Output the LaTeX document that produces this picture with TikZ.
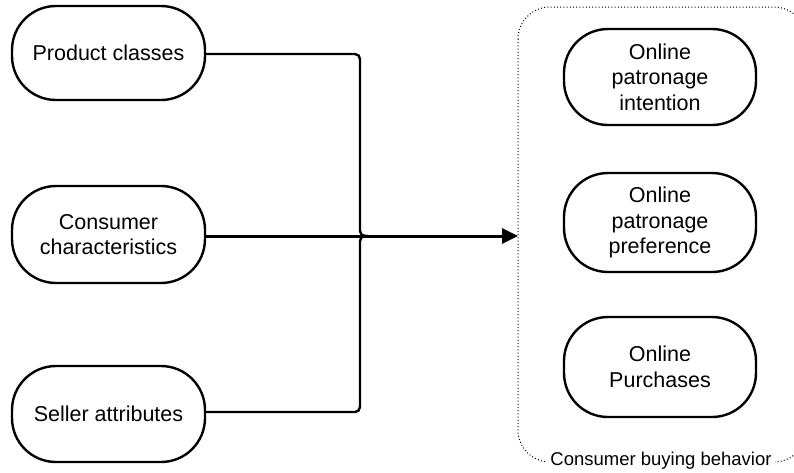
\documentclass[tikz,border=0pt]{standalone}
\usepackage{fontspec}
\setmainfont{Liberation Sans}
\usetikzlibrary{arrows.meta}
\begin{document}
\begin{tikzpicture}[x=1pt,y=-1pt,
  pill/.style={draw, line width=2.4pt, rounded corners=44pt, align=center,
    minimum width=193pt, inner sep=0pt, font=\fontsize{21.5}{25.5}\selectfont},
  link/.style={line width=2.4pt, rounded corners=5pt},
  group/.style={draw, line width=1pt, dash pattern=on 1pt off 2.2pt, rounded corners=32pt}]
  \useasboundingbox (0,0) rectangle (794,472);
  % input factors
  \node[pill, minimum height=94pt] (pc) at (108.5,53) {Product classes};
  \node[pill, minimum height=97pt] (cc) at (108.5,234.5) {Consumer\\characteristics};
  \node[pill, minimum height=96pt] (sa) at (108.5,414) {Seller attributes};
  % consumer buying behaviour group
  \draw[group] (518,7) rectangle (806,462);
  \coordinate (gw) at (518,236);
  \node[fill=white, inner sep=3pt, font=\fontsize{18.5}{22}\selectfont] (gl) at (661,461) {Consumer buying behavior};
  \node[pill, minimum width=192pt, minimum height=96pt] (oi) at (660,77) {Online\\patronage\\intention};
  \node[pill, minimum width=192pt, minimum height=99pt] (op) at (660,222.5) {Online\\patronage\\preference};
  \node[pill, minimum width=192pt, minimum height=100pt] (ou) at (660,367) {Online\\Purchases};
  % connectors
  \coordinate (j) at (360,236);
  \draw[link] (pc.east |- 0,54) -- (j |- 0,54) -- (j) -- ([xshift=8pt]j);
  \draw[link] (sa.east |- 0,412) -- (j |- 0,412) -- (j) -- ([xshift=8pt]j);
  \draw[line width=3pt, -{Triangle[length=16pt,width=15pt]}] (cc.east |- gw) -- (gw);
\end{tikzpicture}
\end{document}
